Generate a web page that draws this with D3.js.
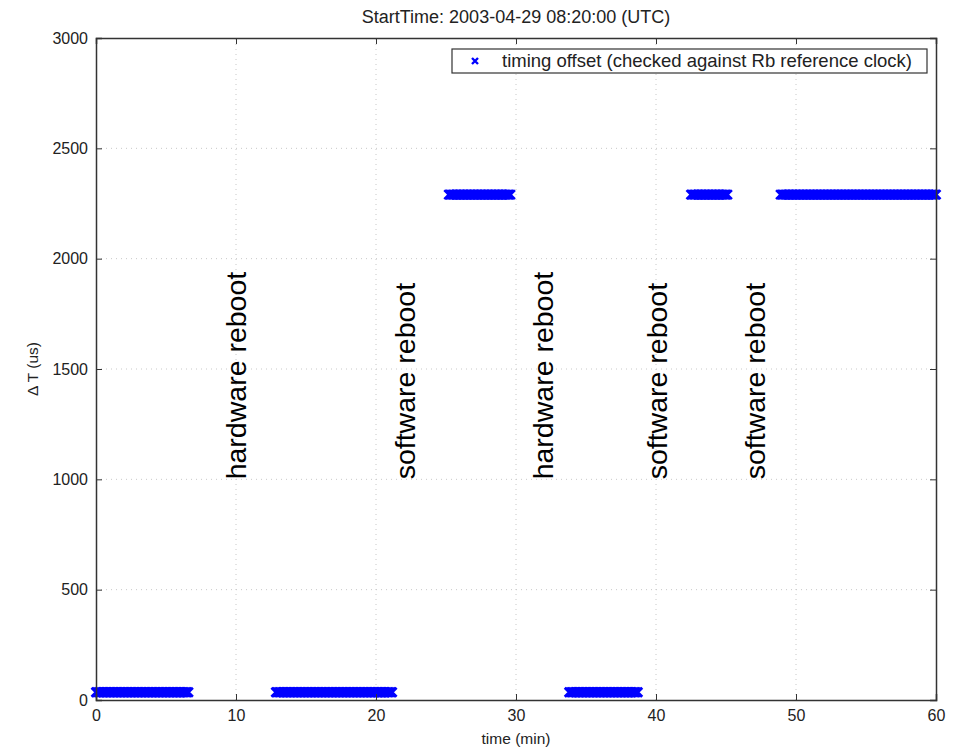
<!DOCTYPE html>
<html><head><meta charset="utf-8">
<script src="https://cdn.jsdelivr.net/npm/d3@7"></script>
<style>body{margin:0;background:#fff}svg{display:block}text{font-family:"Liberation Sans",Arial,Helvetica,sans-serif;fill:#222}</style>
</head><body>
<script>
// Data
const title = "StartTime: 2003-04-29 08:20:00 (UTC)";
const xLabel = "time (min)";
const yLabel = "\u0394 T (us)";
const legendLabel = "timing offset (checked against Rb reference clock)";
const xTicks = [0,10,20,30,40,50,60];
const yTicks = [0,500,1000,1500,2000,2500,3000];
// measurement segments: start (min), end (min), offset (us)
const segStart = [0.0, 12.85, 25.2, 33.8, 42.5, 48.9];
const segEnd   = [6.6, 21.2, 29.6, 38.7, 45.1, 60.0];
const segValue = [35, 35, 2290, 35, 2290, 2290];
const sampleStepMin = 0.1; // one sample every 6 s
// annotations
const annX = [10, 22.1, 31.9, 40.1, 47.1];
const annY = [1000, 1000, 1000, 1000, 1000];
const annText = ["hardware reboot","software reboot","hardware reboot","software reboot","software reboot"];

const W = 958, H = 750;
const m = {left:96, right:22, top:38, bottom:50};
const svg = d3.select("body").append("svg").attr("width",W).attr("height",H);
const x = d3.scaleLinear().domain([0,60]).range([m.left, W-m.right]);
const y = d3.scaleLinear().domain([0,3000]).range([H-m.bottom, m.top]);

// points
const pts = [];
segStart.forEach((s,i)=>{
  for (let t=s; t<=segEnd[i]+1e-9; t+=sampleStepMin) pts.push([t, segValue[i]]);
});

// grid
const g = svg.append("g");
g.selectAll(".gx").data(xTicks.slice(1,-1)).enter().append("line")
  .attr("x1",d=>x(d)).attr("x2",d=>x(d)).attr("y1",y(0)).attr("y2",y(3000))
  .attr("stroke","#c8c8c8").attr("stroke-width",1).attr("stroke-dasharray","1,4");
g.selectAll(".gy").data(yTicks.slice(1,-1)).enter().append("line")
  .attr("y1",d=>y(d)).attr("y2",d=>y(d)).attr("x1",x(0)).attr("x2",x(60))
  .attr("stroke","#c8c8c8").attr("stroke-width",1).attr("stroke-dasharray","1,4");

// annotations
annText.forEach((t,i)=>{
  svg.append("text").attr("transform",`translate(${x(annX[i])},${y(annY[i])}) rotate(-90)`)
    .attr("dy","0.35em").attr("font-size",28.5).style("fill","#000").text(t);
});

// markers
const r = 4.5;
const mk = svg.append("g").attr("stroke","#0000ff").attr("stroke-width",2.6);
mk.selectAll("path").data(pts).enter().append("path")
  .attr("d",d=>{const cx=x(d[0]), cy=y(d[1]);return `M${cx-r},${cy-r}L${cx+r},${cy+r}M${cx-r},${cy+r}L${cx+r},${cy-r}`;});

// axes
const axisCol = "#333";
const xb = svg.append("g").attr("transform",`translate(0,${y(0)})`)
  .call(d3.axisBottom(x).tickValues(xTicks).tickSize(-6).tickPadding(10).tickFormat(d3.format("d")));
const xt = svg.append("g").attr("transform",`translate(0,${y(3000)})`)
  .call(d3.axisTop(x).tickValues(xTicks).tickSize(-6).tickFormat(""));
const yl = svg.append("g").attr("transform",`translate(${x(0)},0)`)
  .call(d3.axisLeft(y).tickValues(yTicks).tickSize(-6).tickPadding(8).tickFormat(d3.format("d")));
const yr = svg.append("g").attr("transform",`translate(${x(60)},0)`)
  .call(d3.axisRight(y).tickValues(yTicks).tickSize(-6).tickFormat(""));
[xb,xt,yl,yr].forEach(a=>{
  a.select(".domain").attr("stroke",axisCol).attr("stroke-width",1.5);
  a.selectAll(".tick line").attr("stroke",axisCol);
  a.selectAll("text").attr("font-size",16).attr("font-family","Liberation Sans, Arial, sans-serif").style("fill","#222");
});

// title and labels
svg.append("text").attr("x",(x(0)+x(60))/2).attr("y",23).attr("text-anchor","middle").attr("font-size",18).text(title);
svg.append("text").attr("x",(x(0)+x(60))/2).attr("y",744).attr("text-anchor","middle").attr("font-size",15.5).text(xLabel);
svg.append("text").attr("transform",`translate(38,${(y(0)+y(3000))/2}) rotate(-90)`).attr("text-anchor","middle").attr("font-size",15.5).text(yLabel);

// legend
const lg = svg.append("g");
lg.append("rect").attr("x",452).attr("y",49).attr("width",475).attr("height",24).attr("fill","#fff").attr("stroke","#333").attr("stroke-width",1.2);
const lx=475, ly=61;
lg.append("path").attr("d",`M${lx-3},${ly-3}L${lx+3},${ly+3}M${lx-3},${ly+3}L${lx+3},${ly-3}`).attr("stroke","#0000ff").attr("stroke-width",2.4);
lg.append("text").attr("x",502).attr("y",ly).attr("dy","0.35em").attr("font-size",18.5).text(legendLabel);
</script>
</body></html>
